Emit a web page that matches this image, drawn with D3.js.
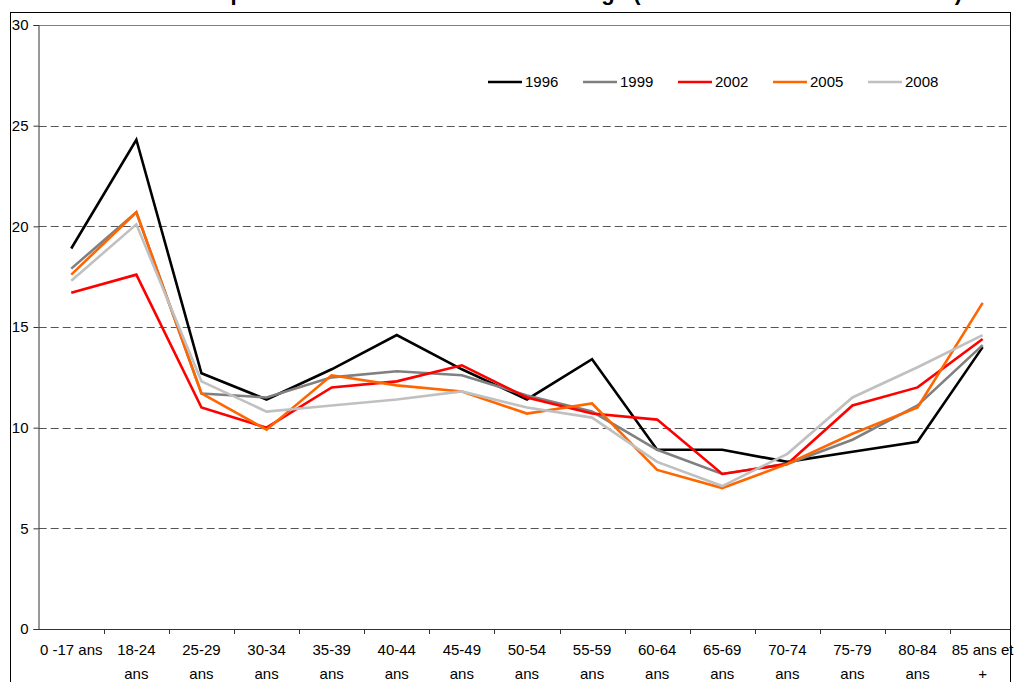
<!DOCTYPE html>
<html>
  <head>
    <meta charset="utf-8" />
    <title>Taux de pauvreté selon l'âge</title>
    <style>
      body,
      html {
        margin: 0;
        padding: 0;
        background: #fff;
      }
      svg {
        display: block;
        font-family: Arial, 'Liberation Sans', sans-serif;
      }
    </style>
  </head>
  <body>
    <svg id="svg" width="1015" height="682"></svg>
    <script src="https://cdn.jsdelivr.net/npm/d3@7"></script>
    <script>
      const title = "Taux de pauvreté monétaire à 60 % selon l'âge (en % des individus concernés)";
      const ageGroups = [
        '0 -17 ans', '18-24\nans', '25-29\nans', '30-34\nans', '35-39\nans',
        '40-44\nans', '45-49\nans', '50-54\nans', '55-59\nans', '60-64\nans',
        '65-69\nans', '70-74\nans', '75-79\nans', '80-84\nans', '85 ans et\n+'
      ];
      const years = ['1996', '1999', '2002', '2005', '2008'];
      const colors = ['#000000', '#808080', '#ff0000', '#ff6600', '#c0c0c0'];
      const yTicks = [0, 5, 10, 15, 20, 25, 30];

      const v1996 = [18.9, 24.3, 12.7, 11.4, 12.9, 14.6, 12.9, 11.4, 13.4, 8.9, 8.9, 8.3, 8.8, 9.3, 14.0];
      const v1999 = [17.9, 20.7, 11.7, 11.5, 12.5, 12.8, 12.6, 11.6, 10.8, 8.9, 7.7, 8.2, 9.4, 11.1, 14.1];
      const v2002 = [16.7, 17.6, 11.0, 10.0, 12.0, 12.3, 13.1, 11.5, 10.7, 10.4, 7.7, 8.2, 11.1, 12.0, 14.4];
      const v2005 = [17.6, 20.7, 11.7, 9.9, 12.6, 12.1, 11.8, 10.7, 11.2, 7.9, 7.0, 8.2, 9.7, 11.0, 16.2];
      const v2008 = [17.3, 20.1, 12.3, 10.8, 11.1, 11.4, 11.8, 11.0, 10.5, 8.3, 7.1, 8.7, 11.5, 13.0, 14.6];
      const series = [v1996, v1999, v2002, v2005, v2008];

      const plotLeft = 38.7;
      const plotRight = 1015.2;
      const plotTop = 25;
      const plotBottom = 629;

      const svg = d3.select('#svg');

      const xScale = d3.scaleBand().domain(ageGroups).range([plotLeft, plotRight]);
      const xc = (c) => xScale(c) + xScale.bandwidth() / 2;
      const yScale = d3.scaleLinear().domain([0, 30]).range([plotBottom, plotTop]);

      // title, cut off at the top like the original: only descenders show
      svg
        .append('text')
        .attr('x', 962)
        .attr('y', 0.3)
        .attr('text-anchor', 'end')
        .attr('font-size', 22)
        .attr('font-weight', 'bold')
        .text(title);

      // outer border
      svg
        .append('rect')
        .attr('x', 10.5)
        .attr('y', 12.5)
        .attr('width', 1000)
        .attr('height', 700)
        .attr('fill', 'none')
        .attr('stroke', '#000');

      const plot = svg.append('g');

      // grid lines
      plot
        .selectAll('line.grid')
        .data(yTicks.filter((t) => t > 0 && t < 30))
        .enter()
        .append('line')
        .attr('x1', plotLeft)
        .attr('x2', 1010)
        .attr('y1', (d) => Math.round(yScale(d)) + 0.5)
        .attr('y2', (d) => Math.round(yScale(d)) + 0.5)
        .attr('stroke', '#555')
        .attr('stroke-dasharray', '8,4');

      plot
        .append('line')
        .attr('x1', plotLeft)
        .attr('x2', 1010)
        .attr('y1', yScale(30) + 0.5)
        .attr('y2', yScale(30) + 0.5)
        .attr('stroke', '#808080');

      // y axis
      const yAxis = plot
        .append('g')
        .attr('transform', `translate(${Math.round(plotLeft) - 0.5},0)`)
        .call(d3.axisLeft(yScale).tickValues(yTicks).tickSize(5).tickPadding(5));
      yAxis.select('.domain').attr('stroke', '#333');
      yAxis.selectAll('.tick line').attr('stroke', '#333');
      yAxis.selectAll('text').attr('font-size', 15).attr('font-family', 'Arial, Liberation Sans').attr('fill', '#000');

      // x axis
      plot
        .append('line')
        .attr('x1', plotLeft - 0.5)
        .attr('x2', 1010)
        .attr('y1', plotBottom + 0.5)
        .attr('y2', plotBottom + 0.5)
        .attr('stroke', '#333');

      plot
        .selectAll('line.xtick')
        .data(ageGroups.slice(1))
        .enter()
        .append('line')
        .attr('x1', (d) => Math.round(xScale(d)) + 0.5)
        .attr('x2', (d) => Math.round(xScale(d)) + 0.5)
        .attr('y1', plotBottom)
        .attr('y2', plotBottom + 5)
        .attr('stroke', '#333');

      const xLabels = plot
        .selectAll('text.xlabel')
        .data(ageGroups)
        .enter()
        .append('text')
        .attr('text-anchor', 'middle')
        .attr('font-size', 15);
      xLabels
        .selectAll('tspan')
        .data((d) => d.split('\n').map((s) => ({ s, c: d })))
        .enter()
        .append('tspan')
        .attr('x', (d) => xc(d.c))
        .attr('y', (d, i) => 655 + i * 24)
        .text((d) => d.s);

      // lines
      const linegen = d3
        .line()
        .x((d, i) => xc(ageGroups[i]))
        .y((d) => yScale(d));

      series.forEach((s, k) => {
        plot
          .append('path')
          .attr('d', linegen(s))
          .attr('fill', 'none')
          .attr('stroke', colors[k])
          .attr('stroke-width', 2.6)
          .attr('stroke-linejoin', 'miter');
      });

      // legend
      const legend = svg
        .append('g')
        .selectAll('g')
        .data(years)
        .enter()
        .append('g')
        .attr('transform', (d, i) => `translate(${488 + i * 95},82)`);
      legend
        .append('line')
        .attr('x1', 0)
        .attr('x2', 34)
        .attr('stroke', (d, i) => colors[i])
        .attr('stroke-width', 2.6);
      legend
        .append('text')
        .attr('x', 37)
        .attr('y', 5)
        .attr('font-size', 15)
        .text((d) => d);
    </script>
  </body>
</html>
